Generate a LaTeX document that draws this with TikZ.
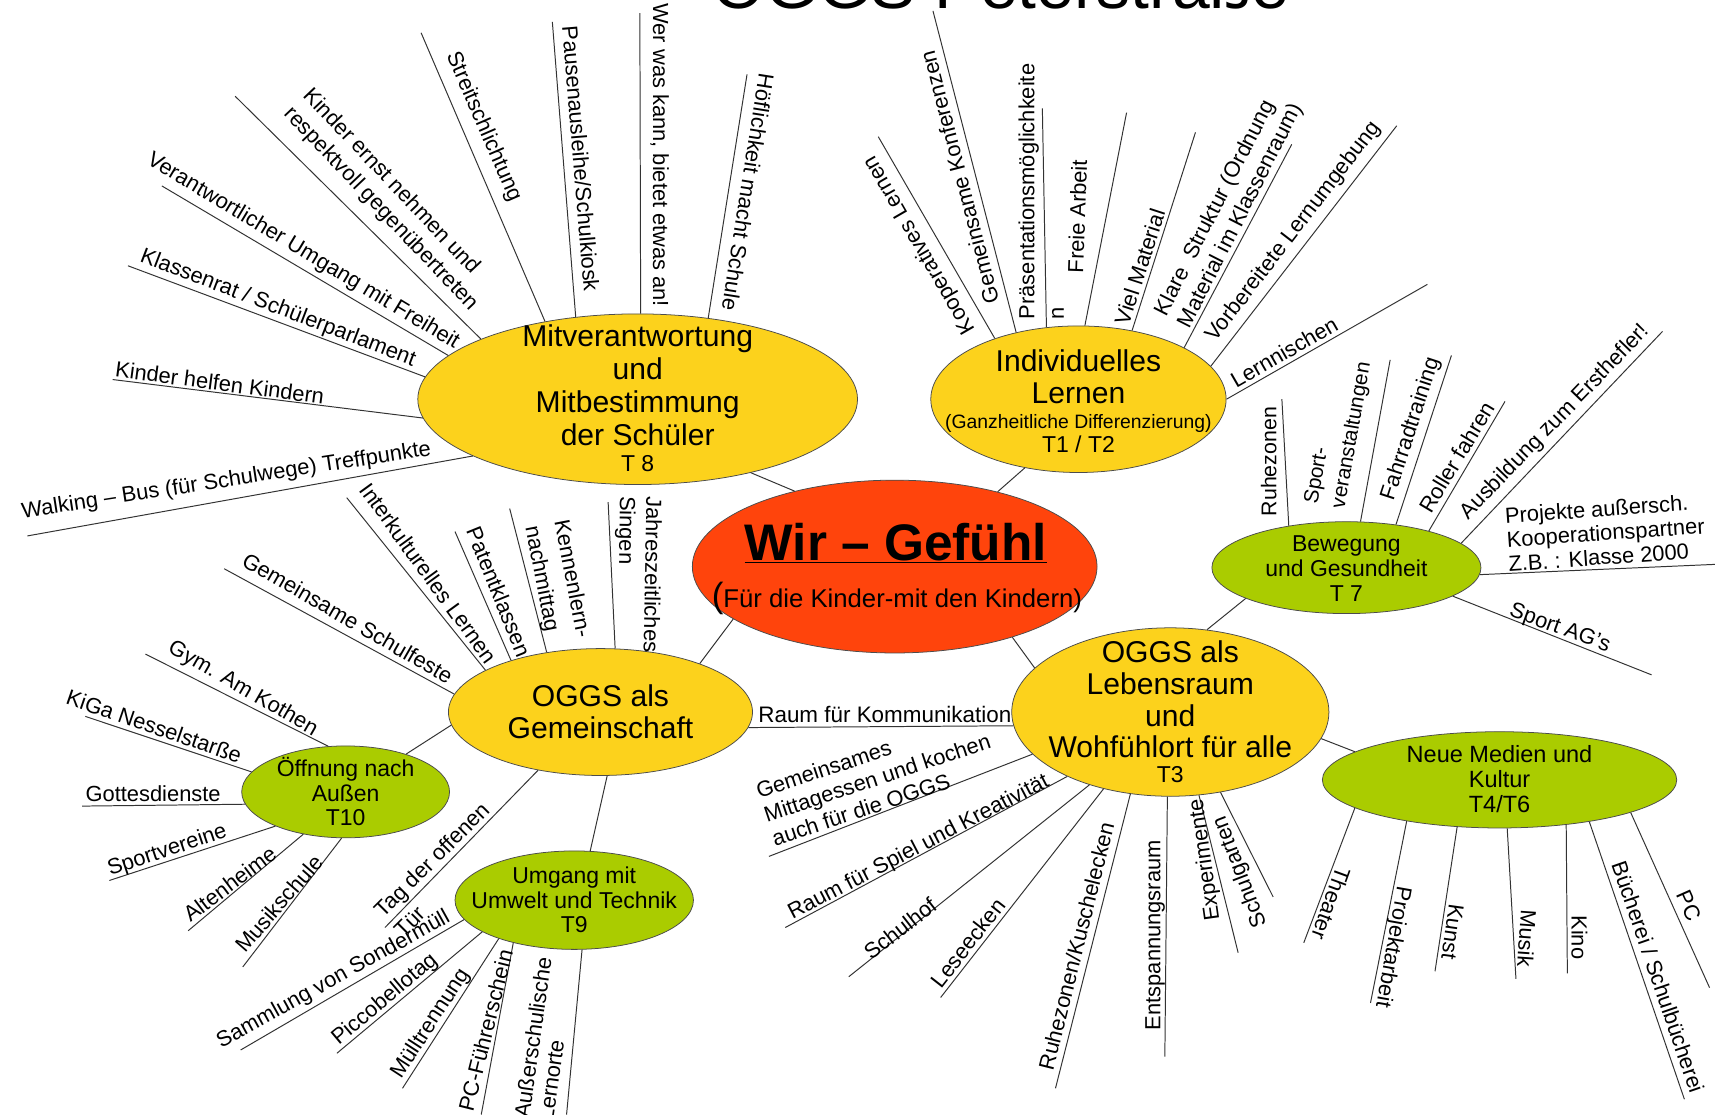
\documentclass[tikz,border=0pt]{standalone}
\usepackage{fontspec}
\setmainfont{Liberation Sans}
\usetikzlibrary{shapes.geometric}
\definecolor{wirred}{RGB}{255,68,12}
\definecolor{sunyellow}{RGB}{252,210,28}
\definecolor{leafgreen}{HTML}{AACC00}
\tikzset{
  blob/.style={ellipse, draw=black!70, line width=0.7pt, inner sep=0pt},
  yellowblob/.style={blob, fill=sunyellow},
  greenblob/.style={blob, fill=leafgreen},
  twig/.style={black!80, line width=0.9pt},
  leaf/.style={inner sep=0pt, align=left, font=\fontsize{20}{24}\selectfont},
  bigtext/.style={inner sep=0pt, align=center, font=\fontsize{27.5}{30}\selectfont},
  smalltext/.style={inner sep=0pt, align=center, font=\fontsize{21}{23}\selectfont}
}

\begin{document}
\begin{tikzpicture}[x=1pt, y=-1pt]
\path[use as bounding box, fill=white] (0,0) rectangle (1568,1019);

\node[font=\fontsize{62}{62}\selectfont, anchor=base] (title) at (915,8) {OGGS Peterstraße};

\node[blob, fill=wirred, minimum width=370, minimum height=158] (wir) at (818,518) {};
\node[yellowblob, minimum width=402, minimum height=156] (mit) at (583,365) {};
\node[yellowblob, minimum width=270, minimum height=134] (indiv) at (986,365) {};
\node[yellowblob, minimum width=278, minimum height=116] (gemein) at (549,651) {};
\node[yellowblob, minimum width=290, minimum height=154] (lebens) at (1070,651) {};
\node[greenblob, minimum width=246, minimum height=84] (beweg) at (1231,519) {};
\node[greenblob, minimum width=324, minimum height=88] (medien) at (1371,713) {};
\node[greenblob, minimum width=190, minimum height=84] (oeffn) at (316,724) {};
\node[greenblob, minimum width=218, minimum height=90] (umwelt) at (525,823) {};

\node[font=\fontsize{47}{50}\selectfont\bfseries, anchor=base] (wirTitle) at (819,512) {\underline{Wir – Gefühl}};
\node[font=\fontsize{23.5}{28}\selectfont, anchor=base] (wirSub) at (820,555) {{\fontsize{32}{32}\selectfont(}Für die Kinder-mit den Kindern)};
\node[bigtext] (mitText) at (583,364) {Mitverantwortung\\und\\Mitbestimmung\\der Schüler\\[-6pt]{\fontsize{21}{21}\selectfont T 8}};
\node[bigtext, font=\fontsize{27.5}{29}\selectfont] (indivText) at (986,367) {Individuelles\\Lernen\\[-6pt]{\fontsize{17.7}{18}\selectfont (Ganzheitliche Differenzierung)}\\[-7pt]{\fontsize{21}{21}\selectfont T1 / T2}};
\node[bigtext, font=\fontsize{27.5}{29}\selectfont] (gemeinText) at (549,651) {OGGS als\\Gemeinschaft};
\node[bigtext, font=\fontsize{27.5}{29}\selectfont] (lebensText) at (1070,651) {OGGS als\\Lebensraum\\und\\Wohfühlort für alle\\[-6pt]{\fontsize{21}{21}\selectfont T3}};
\node[smalltext] (bewegText) at (1231,520) {Bewegung\\und Gesundheit\\T 7};
\node[smalltext, font=\fontsize{21.5}{23}\selectfont] (medienText) at (1371,712) {Neue Medien und\\Kultur\\T4/T6};
\node[smalltext, font=\fontsize{21}{22.5}\selectfont] (oeffnText) at (316,724) {Öffnung nach\\Außen\\T10};
\node[smalltext, font=\fontsize{21}{22.5}\selectfont] (umweltText) at (525,823) {Umgang mit\\Umwelt und Technik\\T9};

\draw[twig] (mit.-33) -- (wir.143);
\draw[twig] (indiv.232) -- (wir.36);
\draw[twig] (gemein.26) -- (wir.198);
\draw[twig] (lebens.162) -- (wir.-31);
\draw[twig] (lebens.66) -- (beweg.197);
\draw[twig] (lebens.-10) -- (medien.169);
\draw[twig] (gemein.-84) -- (umwelt.72);
\draw[twig] (gemein.185) -- (oeffn.32);
\draw[twig] (gemein.-6) -- (lebens.185);
\node[leaf, font=\fontsize{20.5}{24}\selectfont] (kommunik) at (809,653) {Raum für Kommunikation};

\draw[twig] (mit.199) -- (25,490) coordinate (walkingEnd);
\node[leaf, rotate=8.8] (walking) at (207,440) {Walking – Bus (für Schulwege) Treffpunkte};
\draw[twig] (mit.185) -- (103,347) coordinate (helfenEnd);
\node[leaf, rotate=-7.5] (helfen) at (201,350) {Kinder helfen Kindern};
\draw[twig] (mit.174) -- (117,243) coordinate (klassenratEnd);
\node[leaf, rotate=-21] (klassenrat) at (254,282) {Klassenrat / Schülerparlament};
\draw[twig] (mit.167) -- (148,170) coordinate (freiheitEnd);
\node[leaf, rotate=-31] (freiheit) at (277,230) {Verantwortlicher Umgang mit Freiheit};
\draw[twig] (mit.159) -- (215,88) coordinate (respektEnd);
\node[leaf, rotate=-46.5] (respekt) at (357,183) {Kinder ernst nehmen und\\respektvoll gegenübertreten};
\draw[twig] (mit.140) -- (385,30) coordinate (streitEnd);
\node[leaf, rotate=-66.5] (streit) at (442,116) {Streitschlichtung};
\draw[twig] (mit.127) -- (505,20) coordinate (kioskEnd);
\node[leaf, rotate=-85.3] (kiosk) at (531,145) {Pausenausleihe/Schulkiosk};
\draw[twig] (mit.88) -- (585,12) coordinate (werKannEnd);
\node[leaf, rotate=-90] (werKann) at (603,142) {Wer was kann, bietet etwas an!};
\draw[twig] (mit.49) -- (683,68) coordinate (hoeflEnd);
\node[leaf, rotate=-99] (hoefl) at (684,176) {Höflichkeit macht Schule};

\draw[twig] (indiv.144) -- (803,125) coordinate (koopEnd);
\node[leaf, rotate=120] (koop) at (841,224) {Kooperatives Lernen};
\draw[twig] (indiv.133) -- (853,10) coordinate (konfEnd);
\node[leaf, rotate=104.5] (konf) at (877,162) {Gemeinsame Konferenzen};
\draw[twig] (indiv.114) -- (953,99) coordinate (praesEnd);
\node[leaf, rotate=90, font=\fontsize{20}{27}\selectfont] (praes) at (952,175) {Präsentationsmöglichkeite\\n};
\draw[twig] (indiv.85) -- (1030,103) coordinate (freieArbEnd);
\node[leaf, rotate=88] (freieArb) at (985,198) {Freie Arbeit};
\draw[twig] (indiv.52) -- (1093,121) coordinate (materialEnd);
\node[leaf, rotate=72] (material) at (1042,244) {Viel Material};
\draw[twig] (indiv.26) -- (1181,132) coordinate (strukturEnd);
\node[leaf, rotate=63] (struktur) at (1124,192) {Klare\ \ Struktur (Ordnung\\Material im Klassenraum)};
\draw[twig] (indiv.14) -- (1277,115) coordinate (lernumgEnd);
\node[leaf, rotate=52.4] (lernumg) at (1183,212) {Vorbereitete Lernumgebung};
\draw[twig] (indiv.0) -- (1305,260) coordinate (nischenEnd);
\node[leaf, rotate=30] (nischen) at (1174,322) {Lernnischen};

\draw[twig] (beweg.144) -- (1172,365) coordinate (ruheEnd);
\node[leaf, rotate=90, font=\fontsize{19.5}{24}\selectfont] (ruhe) at (1160,422) {Ruhezonen};
\draw[twig] (beweg.73) -- (1271,329) coordinate (sportVerEnd);
\node[leaf, rotate=80, font=\fontsize{19}{25}\selectfont] (sportVer) at (1224,396) {Sport-\\veranstaltungen};
\draw[twig] (beweg.41) -- (1327,325) coordinate (fahrradEnd);
\node[leaf, rotate=72] (fahrrad) at (1290,392) {Fahrradtraining};
\draw[twig] (beweg.24) -- (1376,367) coordinate (rollerEnd);
\node[leaf, rotate=59] (roller) at (1332,418) {Roller fahren};
\draw[twig] (beweg.12) -- (1520,303) coordinate (ersthelferEnd);
\node[leaf, rotate=46] (ersthelfer) at (1422,386) {Ausbildung zum Ersthefler!};
\draw[twig] (beweg.-3) -- (1568,516) coordinate (projekteEnd);
\node[leaf, rotate=4, font=\fontsize{20}{22}\selectfont] (projekte) at (1468,487) {Projekte außersch.\\Kooperationspartner\\Z.B. : Klasse 2000};
\draw[twig] (beweg.-15) -- (1510,617) coordinate (sportAGEnd);
\node[leaf, rotate=-20] (sportAG) at (1426,575) {Sport AG’s};

\draw[twig] (lebens.197) -- (703,783) coordinate (mittagEnd);
\node[leaf, rotate=18.5, font=\fontsize{20}{23}\selectfont] (mittag) at (802,711) {Gemeinsames\\Mittagessen und kochen\\auch für die OGGS};
\draw[twig] (lebens.212) -- (718,848) coordinate (spielEnd);
\node[leaf, rotate=27.5] (spiel) at (840,775) {Raum für Spiel und Kreativität};
\draw[twig] (lebens.222) -- (776,893) coordinate (schulhofEnd);
\node[leaf, rotate=38] (schulhof) at (823,849) {Schulhof};
\draw[twig] (lebens.229) -- (860,912) coordinate (leseEnd);
\node[leaf, rotate=52] (lese) at (885,862) {Leseecken};
\draw[twig] (lebens.244) -- (965,995) coordinate (kuschelEnd);
\node[leaf, rotate=76] (kuschel) at (984,865) {Ruhezonen/Kuschelecken};
\draw[twig] (lebens.268) -- (1065,966) coordinate (entspEnd);
\node[leaf, rotate=90] (entsp) at (1056,855) {Entspannungsraum};
\draw[twig] (lebens.-71) -- (1132,871) coordinate (experimEnd);
\node[leaf, rotate=98] (experim) at (1102,786) {Experimente};
\draw[twig] (lebens.-58) -- (1164,820) coordinate (gartenEnd);
\node[leaf, rotate=111] (garten) at (1134,797) {Schulgarten};

\draw[twig] (medien.191) -- (1192,862) coordinate (theaterEnd);
\node[leaf, rotate=-110] (theater) at (1217,826) {Theater};
\draw[twig] (medien.204) -- (1253,917) coordinate (projektEnd);
\node[leaf, rotate=-100] (projekt) at (1273,866) {Projektarbeit};
\draw[twig] (medien.228) -- (1312,888) coordinate (kunstEnd);
\node[leaf, rotate=-98] (kunst) at (1328,852) {Kunst};
\draw[twig] (medien.-81) -- (1386,895) coordinate (musikEnd);
\node[leaf, rotate=-94] (musik) at (1396,858) {Musik};
\draw[twig] (medien.-34) -- (1433,890) coordinate (kinoEnd);
\node[leaf, rotate=-90] (kino) at (1444,857) {Kino};
\draw[twig] (medien.-25) -- (1540,1005) coordinate (buechereiEnd);
\node[leaf, rotate=-71] (buecherei) at (1516,893) {Bücherei / Schulbücherei};
\draw[twig] (medien.-14) -- (1563,903) coordinate (pcEnd);
\node[leaf, rotate=-66] (pc) at (1544,828) {PC};

\draw[twig] (gemein.173) -- (205,520) coordinate (schulfesteEnd);
\node[leaf, rotate=-30] (schulfeste) at (318,565) {Gemeinsame Schulfeste};
\draw[twig] (gemein.160) -- (317,455) coordinate (interkultEnd);
\node[leaf, rotate=-54] (interkult) at (392,524) {Interkulturelles Lernen};
\draw[twig] (gemein.150) -- (416,486) coordinate (patenEnd);
\node[leaf, rotate=-68] (paten) at (456,541) {Patentklassen};
\draw[twig] (gemein.132) -- (466,465) coordinate (kennenEnd);
\node[leaf, rotate=-79, font=\fontsize{20}{27}\selectfont] (kennen) at (509,532) {Kennenlern-\\nachmittag};
\draw[twig] (gemein.77) -- (556,459) coordinate (singenEnd);
\node[leaf, rotate=-91] (singen) at (583,525) {Jahreszeitliches\\Singen};
\draw[twig] (gemein.223) -- (352,848) coordinate (tagOffenEnd);
\node[leaf, rotate=45, font=\fontsize{20}{26}\selectfont] (tagOffen) at (404,795) {Tag der offenen\\Tür};

\draw[twig] (oeffn.111) -- (133,598) coordinate (gymEnd);
\node[leaf, rotate=-30] (gym) at (222,630) {Gym. Am Kothen};
\draw[twig] (oeffn.168) -- (78,655) coordinate (kigaEnd);
\node[leaf, rotate=-19] (kiga) at (141,664) {KiGa Nesselstarße};
\draw[twig] (oeffn.187) -- (75,737) coordinate (gottesdEnd);
\node[leaf] (gottesd) at (140,726) {Gottesdienste};
\draw[twig] (oeffn.206) -- (100,805) coordinate (sportvereinEnd);
\node[leaf, rotate=18.5] (sportverein) at (153,778) {Sportvereine};
\draw[twig] (oeffn.225) -- (172,851) coordinate (altenhEnd);
\node[leaf, rotate=37] (altenh) at (210,808) {Altenheime};
\draw[twig] (oeffn.265) -- (222,884) coordinate (musikschuleEnd);
\node[leaf, rotate=49] (musikschule) at (255,826) {Musikschule};

\draw[twig] (umwelt.190) -- (220,960) coordinate (sondermuellEnd);
\node[leaf, rotate=29] (sondermuell) at (305,896) {Sammlung von Sondermüll};
\draw[twig] (umwelt.199) -- (308,963) coordinate (piccobEnd);
\node[leaf, rotate=40] (piccob) at (352,914) {Piccobellotag};
\draw[twig] (umwelt.207) -- (368,995) coordinate (muellEnd);
\node[leaf, rotate=57] (muell) at (394,936) {Mülltrennung};
\draw[twig] (umwelt.215) -- (440,1019) coordinate (pcFuehrEnd);
\node[leaf, rotate=76] (pcFuehr) at (444,942) {PC-Führerschein};
\draw[twig] (umwelt.-81) -- (518,1019) coordinate (lernorteEnd);
\node[leaf, rotate=82, font=\fontsize{20}{22}\selectfont] (lernorte) at (498,950) {Außerschulische\\Lernorte};
\end{tikzpicture}
\end{document}
